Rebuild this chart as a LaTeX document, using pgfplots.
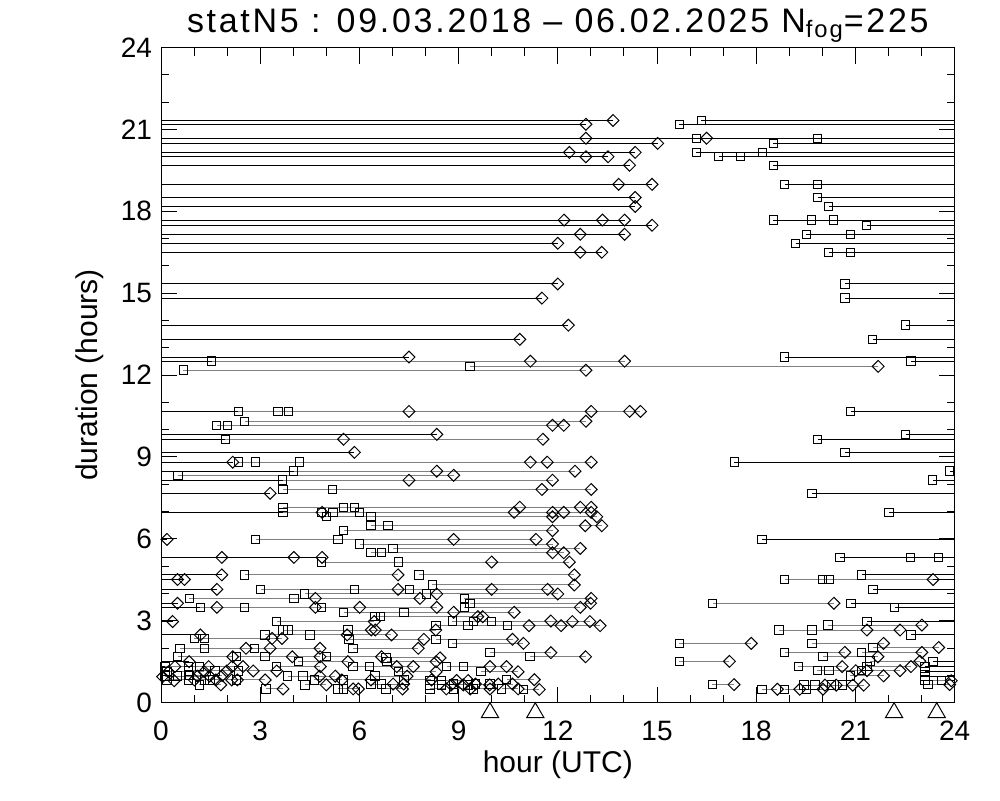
\documentclass[border=0pt]{standalone}
\usepackage{fontspec}
\setmainfont{Liberation Sans}
\newfontfamily\titlefont{Liberation Sans}[LetterSpace=8]
\usepackage{pgfplots}
\usepackage{pgfplotstable}
\pgfplotsset{compat=1.18}

% events that run past midnight: start s, duration d, end e (next day)
\pgfplotstableread{
s d e
16.34 21.33 13.67
15.68 21.19 12.85
19.85 20.68 16.50
16.20 20.68 12.85
18.52 20.49 15.02
16.19 20.16 12.35
18.19 20.16 14.34
16.86 20.00 12.85
17.52 20.00 13.52
18.52 19.69 14.17
18.86 18.99 13.84
19.86 18.99 14.85
19.86 18.51 14.34
20.19 18.18 14.34
18.52 17.68 12.19
19.68 17.68 13.35
20.34 17.68 14.02
21.34 17.49 14.85
19.52 17.16 12.68
20.86 17.16 14.02
19.19 16.83 12.00
20.19 16.50 12.68
20.86 16.50 13.33
20.69 15.34 12.00
20.69 14.82 11.52
22.52 13.83 12.32
21.52 13.31 10.85
18.86 12.66 7.50
22.68 12.51 11.17
20.86 10.67 7.50
22.52 9.83 8.34
19.86 9.65 5.52
20.68 9.17 5.85
17.34 8.81 2.17
23.85 8.48 8.34
23.34 8.15 7.50
19.69 7.67 3.30
22.01 6.97 4.87
18.18 5.98 0.18
20.53 5.32 1.84
22.66 5.32 4.02
23.52 5.32 4.87
21.19 4.68 1.84
20.00 4.51 0.50
20.20 4.51 0.71
21.53 4.15 1.69
20.87 3.64 0.50
22.19 3.49 1.69
21.35 2.97 0.35
22.68 2.48 1.19
23.35 1.50 0.85
23.10 1.32 0.42
23.10 1.13 0.23
23.10 0.95 0.05
23.60 0.80 0.40
}\wraps

% events within one day: start s, duration d, end e
\pgfplotstableread{
s d e
1.53 12.51 14.02
9.34 12.32 21.69
0.68 12.18 12.85
2.34 10.67 13.01
3.54 10.67 14.17
3.86 10.67 14.50
2.53 10.31 12.85
1.68 10.16 11.84
2.01 10.16 12.18
1.95 9.65 11.55
2.34 8.81 11.17
2.86 8.81 11.68
4.19 8.81 13.01
4.01 8.48 12.52
0.52 8.33 8.85
3.68 8.15 11.84
3.69 7.81 11.52
5.19 7.81 13.01
3.69 7.16 10.85
5.52 7.16 12.68
5.85 7.16 13.01
3.69 6.97 10.68
4.85 6.97 11.84
5.20 6.97 12.18
6.00 6.97 13.01
5.00 6.81 11.84
6.35 6.81 13.18
6.35 6.48 12.83
6.86 6.48 13.33
5.52 6.30 11.84
2.86 5.98 8.85
5.35 5.98 11.34
6.01 5.81 11.84
7.02 5.65 12.68
6.35 5.49 11.84
6.67 5.49 12.18
4.85 5.15 10.00
7.19 5.15 12.35
2.53 4.68 7.17
7.80 4.68 12.50
8.21 4.31 12.50
3.01 4.15 7.17
5.86 4.15 10.00
7.52 4.15 11.69
4.34 3.98 8.34
8.03 3.98 12.00
0.86 3.82 4.67
4.02 3.82 7.83
9.17 3.82 13.01
9.35 3.64 12.99
1.19 3.49 4.67
2.53 3.49 6.01
4.85 3.49 8.34
9.17 3.49 12.68
5.52 3.31 8.85
7.35 3.31 10.68
6.47 3.15 9.58
6.64 3.15 9.73
3.50 2.97 6.45
8.81 2.99 11.79
9.45 2.97 12.44
10.00 2.97 12.97
8.32 2.82 11.13
9.29 2.82 12.10
10.47 2.82 13.28
3.69 2.66 6.36
3.84 2.66 6.48
5.65 2.66 8.31
4.50 2.48 6.97
3.15 2.48 5.63
1.01 2.35 3.36
1.31 2.35 3.66
5.68 2.32 7.95
8.32 2.32 10.63
8.81 2.17 10.96
0.58 1.99 2.57
1.31 1.99 3.30
2.82 1.99 4.81
5.81 1.99 7.78
9.95 1.83 11.79
0.50 1.68 2.17
2.29 1.68 3.97
3.15 1.68 4.81
5.00 1.68 6.67
6.80 1.64 8.44
11.16 1.68 12.84
4.15 1.50 5.65
6.84 1.50 8.32
0.12 1.32 1.44
1.16 1.32 2.48
0.83 1.32 2.15
5.81 1.32 7.13
6.30 1.32 7.63
8.64 1.32 9.95
9.14 1.32 10.45
1.63 1.16 2.79
0.83 1.16 1.99
9.68 1.13 10.80
7.19 1.13 8.32
3.83 0.97 4.80
4.30 0.97 5.27
0.12 0.97 1.10
6.47 0.97 7.44
0.83 0.83 1.66
1.31 0.83 2.14
1.48 0.83 2.31
2.29 0.83 3.15
4.64 0.83 5.47
8.13 0.81 8.94
8.49 0.81 9.29
10.45 0.84 11.29
6.67 0.68 7.34
9.51 0.68 10.20
9.95 0.68 10.63
6.35 0.68 7.02
8.85 0.68 9.51
8.13 0.65 8.78
3.18 0.50 3.69
5.35 0.50 5.81
5.52 0.50 5.97
9.45 0.50 9.95
10.96 0.48 11.44
8.85 0.50 9.35
8.13 0.50 8.63
0.18 0.83 1.01
0.86 0.99 1.85
0.18 1.13 1.31
0.50 0.97 1.47
1.16 0.65 1.81
2.34 1.16 3.50
4.35 0.65 5.00
5.52 0.83 6.35
7.35 0.83 8.18
9.29 0.65 9.94
10.30 0.50 10.80
3.50 1.32 4.82
8.49 0.65 9.14
6.80 0.50 7.30
18.86 4.51 23.35
16.68 3.64 20.35
20.17 2.84 23.01
18.69 2.66 21.35
19.69 2.66 22.35
15.68 2.17 17.85
19.69 2.17 21.85
21.53 2.02 23.52
18.86 1.84 20.68
21.19 1.84 23.01
20.02 1.68 21.68
15.68 1.51 17.19
21.44 1.52 22.95
19.27 1.32 20.60
21.35 1.32 22.68
19.85 1.17 21.01
20.20 1.17 21.35
21.19 1.17 22.35
20.85 0.98 21.85
23.10 0.80 23.90
19.44 0.64 20.08
19.78 0.64 20.42
20.28 0.64 20.92
20.61 0.64 21.25
16.67 0.66 17.33
23.20 0.66 23.85
18.86 0.49 19.32
18.18 0.49 18.64
19.52 0.49 20.02
}\nowraps

\pgfplotstableread{
x y
9.95 -0.37
11.32 -0.37
22.17 -0.37
23.46 -0.37
}\tri

\begin{document}
\begin{tikzpicture}
\useasboundingbox (-80.5pt,-48.7pt) rectangle (419.5pt,351.3pt);
\begin{axis}[
  at={(0pt,0pt)}, anchor=south west,
  scale only axis, width=396.8pt, height=327.5pt,
  xmin=0, xmax=24, ymin=0, ymax=24,
  xtick={0,3,...,24}, ytick={0,3,...,24},
  minor x tick num=2, minor y tick num=2,
  major tick length=8pt, minor tick length=4pt,
  tick style={black, line width=0.5pt},
  axis line style={line width=0.5pt},
  clip=false,
  /pgf/number format/assume math mode=true,
  tick label style={font=\fontsize{14}{16}\selectfont},
  xticklabel style={anchor=center, yshift=-14.2pt},
  yticklabel style={anchor=east, xshift=-1pt},
  xlabel={hour (UTC)}, ylabel={duration (hours)},
  label style={font=\fontsize{15}{18}\selectfont},
  xlabel style={at={(axis description cs:0.5,-0.0953)}, anchor=center},
  ylabel style={at={(axis description cs:-0.0895,0.5)}, anchor=center},
  every axis title shift=0pt,
  title={statN5 : 09.03.2018 \textendash{} 06.02.2025 N\textsubscript{fog}=225},
  title style={at={(axis description cs:0.5,1.034)}, anchor=center, font=\titlefont\fontsize{17}{20}\selectfont},
]
% black lines: events across midnight, start -> 24 and 0 -> end
\addplot[forget plot, mark=none, draw=black, line width=0.5pt,
  quiver={u={24-\thisrow{s}}, v=0}]
  table[x=s, y=d] {\wraps};
\addplot[forget plot, mark=none, draw=black, line width=0.5pt,
  quiver={u={0-\thisrow{e}}, v=0}]
  table[x=e, y=d] {\wraps};
% gray lines: events within a day
\addplot[forget plot, mark=none, draw=black!50, line width=0.5pt,
  quiver={u={\thisrow{e}-\thisrow{s}}, v=0}]
  table[x=s, y=d] {\nowraps};
% start markers (squares)
\addplot[only marks, mark=square, mark size=2.1pt,
  mark options={draw=black, fill=none, line width=0.5pt, solid}]
  table[x=s, y=d] {\wraps};
\addplot[only marks, mark=square, mark size=2.1pt,
  mark options={draw=black, fill=none, line width=0.5pt, solid}]
  table[x=s, y=d] {\nowraps};
% end markers (diamonds)
\addplot[only marks, mark=square, mark size=2.1pt,
  mark options={draw=black, fill=none, line width=0.5pt, solid, rotate=45}]
  table[x=e, y=d] {\wraps};
\addplot[only marks, mark=square, mark size=2.1pt,
  mark options={draw=black, fill=none, line width=0.5pt, solid, rotate=45}]
  table[x=e, y=d] {\nowraps};
% triangles below the axis
\addplot[only marks, mark=triangle, mark size=5pt,
  mark options={draw=black, fill=none, line width=0.5pt, solid}]
  table[x=x, y=y] {\tri};
\end{axis}
\end{tikzpicture}
\end{document}
